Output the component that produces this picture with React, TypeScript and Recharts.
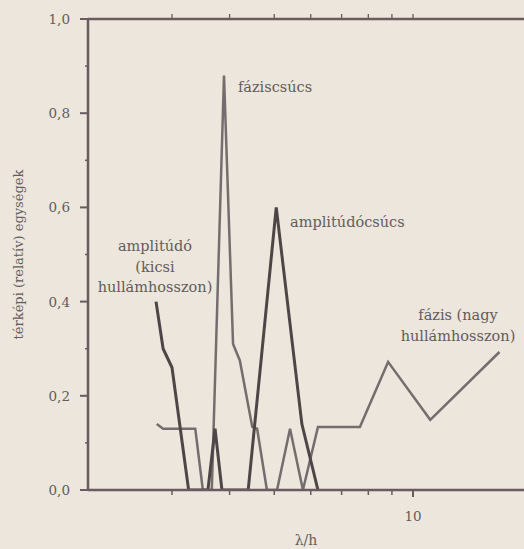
import React from 'react';
import { LineChart, Line, XAxis, YAxis, ReferenceDot } from 'recharts';

// λ/h values (log axis) and relative map units
const amplitudeX = [2.77, 2.87, 3.0, 3.26, 3.59, 3.72, 3.85, 4.39, 5.05, 5.74, 6.22];
const amplitudeY = [0.4, 0.3, 0.26, 0.0, 0.0, 0.13, 0.0, 0.0, 0.6, 0.14, 0.0];

const phaseX = [2.78, 2.87, 3.37, 3.5, 3.66, 3.89, 4.07, 4.21, 4.48, 4.59, 4.82, 5.07, 5.41, 5.77, 6.22, 7.67, 8.83, 10.9, 15.4];
const phaseY = [0.14, 0.13, 0.13, 0.0, 0.0, 0.88, 0.31, 0.275, 0.134, 0.13, 0.0, 0.0, 0.13, 0.0, 0.134, 0.134, 0.272, 0.149, 0.293];

const xTicks = [3, 4, 5, 6, 7, 8, 9, 10];
const xTickLabels = ['', '', '', '', '', '', '', '10'];
const yTicks = [0, 0.1, 0.2, 0.3, 0.4, 0.5, 0.6, 0.7, 0.8, 0.9, 1.0];
const X_DOMAIN: [number, number] = [1.972, 17.41];

const amplitudeData = amplitudeX.map((x, i) => ({ x, y: amplitudeY[i] }));
const phaseData = phaseX.map((x, i) => ({ x, y: phaseY[i] }));

const AXIS = '#6b5a60';
const TEXT = '#625c5c';
const FONT = '"DejaVu Serif", "Liberation Serif", serif';

const YTick = (props: any) => {
  const { x, y, payload } = props;
  const v = payload.value as number;
  const major = Math.round(v * 10) % 2 === 0;
  const ax = x + 18;
  return (
    <g>
      <line x1={ax - (major ? 8 : 3)} x2={ax} y1={y} y2={y} stroke={AXIS} strokeWidth={major ? 2 : 1.5} />
      {major && (
        <text x={x} y={y} dy={5} textAnchor="end" fill={TEXT} fontSize={13.5} fontFamily={FONT}>
          {v.toFixed(1).replace('.', ',')}
        </text>
      )}
    </g>
  );
};

// bottom tick: y = axisY + tickSize(5) + tickMargin(15)
const XTickBottom = (props: any) => {
  const { x, y, payload } = props;
  const v = payload.value as number;
  const idx = xTicks.indexOf(v);
  const label = idx >= 0 ? xTickLabels[idx] : '';
  const ay = y - 20;
  const major = v === 10;
  return (
    <g>
      <line x1={x} x2={x} y1={ay + 1} y2={ay + (major ? 7 : 5)} stroke={AXIS} strokeWidth={major ? 2 : 1.5} />
      {label && (
        <text x={x} y={ay + 31} textAnchor="middle" fill={TEXT} fontSize={13.5} fontFamily={FONT}>
          {label}
        </text>
      )}
    </g>
  );
};

// top tick: y = axisY - tickSize(3) - tickMargin(2)
const XTickTop = (props: any) => {
  const { x, y } = props;
  const ay = y + 5;
  return (
    <g>
      <line x1={x} x2={x} y1={ay - 5} y2={ay - 1} stroke={AXIS} strokeWidth={1.3} />
    </g>
  );
};

const annot = (lines: string[], anchor: 'start' | 'middle', gap: number) => (props: any) => {
  const vb = props.viewBox || {};
  const x = (vb.x ?? 0) + (vb.width ?? 0) / 2;
  const y = (vb.y ?? 0) + (vb.height ?? 0) / 2;
  return (
    <text x={x} y={y} textAnchor={anchor} fill={TEXT} fontSize={14.5} fontFamily={FONT}>
      {lines.map((l, i) => (
        <tspan key={i} x={x} dy={i === 0 ? 0 : gap}>
          {l}
        </tspan>
      ))}
    </text>
  );
};

export default function App() {
  return (
    <div style={{ padding: '8px 0 0 8px' }}>
      <style>{`body{margin:0;background:#ece6dc;}`}</style>
      <LineChart width={516} height={541} margin={{ top: 10, right: 0, bottom: 0, left: 0 }}>
        <XAxis
          xAxisId="t"
          orientation="top"
          dataKey="x"
          type="number"
          scale="log"
          domain={X_DOMAIN}
          allowDataOverflow
          ticks={xTicks}
          interval={0}
          tickSize={3}
          tickMargin={2}
          height={1}
          axisLine={{ stroke: AXIS, strokeWidth: 2.5 }}
          tickLine={false}
          tick={<XTickTop />}
        />
        <XAxis
          xAxisId="b"
          dataKey="x"
          type="number"
          scale="log"
          domain={X_DOMAIN}
          allowDataOverflow
          ticks={xTicks}
          interval={0}
          tickSize={5}
          tickMargin={15}
          height={59}
          axisLine={{ stroke: AXIS, strokeWidth: 2.5 }}
          tickLine={false}
          tick={<XTickBottom />}
          label={{ value: 'λ/h', position: 'insideBottom', offset: 4, fill: TEXT, fontSize: 14, fontFamily: FONT }}
        />
        <YAxis
          type="number"
          domain={[0, 1]}
          allowDataOverflow
          ticks={yTicks}
          interval={0}
          width={80}
          tickSize={8}
          tickMargin={10}
          tickLine={false}
          axisLine={{ stroke: AXIS, strokeWidth: 2.5 }}
          tick={<YTick />}
          label={{
            value: 'térképi (relatív) egységek',
            angle: -90,
            position: 'insideLeft',
            offset: 10,
            fill: TEXT,
            fontSize: 13,
            fontFamily: FONT,
            style: { textAnchor: 'middle' },
          }}
        />
        <Line
          xAxisId="b"
          data={phaseData}
          dataKey="y"
          type="linear"
          stroke="#766c6e"
          strokeWidth={2.5}
          dot={false}
          isAnimationActive={false}
        />
        <Line
          xAxisId="b"
          data={amplitudeData}
          dataKey="y"
          type="linear"
          stroke="#4e4646"
          strokeWidth={3}
          dot={false}
          isAnimationActive={false}
        />
        <ReferenceDot xAxisId="b" x={4.17} y={0.845} r={0.1} fill="none" stroke="none" label={{ content: annot(['fáziscsúcs'], 'start', 0) }} />
        <ReferenceDot xAxisId="b" x={5.41} y={0.558} r={0.1} fill="none" stroke="none" label={{ content: annot(['amplitúdócsúcs'], 'start', 0) }} />
        <ReferenceDot xAxisId="b" x={2.756} y={0.507} r={0.1} fill="none" stroke="none" label={{ content: annot(['amplitúdó', '(kicsi', 'hullámhosszon)'], 'middle', 20.5) }} />
        <ReferenceDot xAxisId="b" x={12.52} y={0.361} r={0.1} fill="none" stroke="none" label={{ content: annot(['fázis (nagy', 'hullámhosszon)'], 'middle', 21) }} />
      </LineChart>
    </div>
  );
}
